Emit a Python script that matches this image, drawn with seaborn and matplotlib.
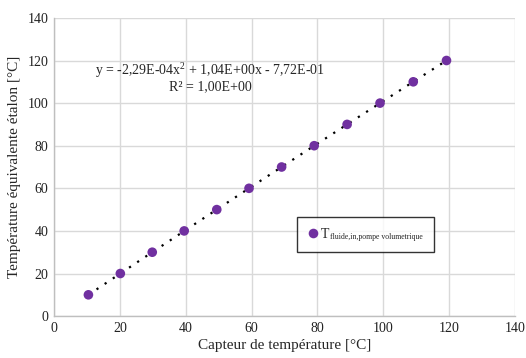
import numpy as np
import pandas as pd
import matplotlib
matplotlib.use("Agg")
import matplotlib.pyplot as plt
import matplotlib.transforms as mtransforms
import seaborn as sns

# valeurs
capteur = [10.4, 20.1, 29.8, 39.5, 49.4, 59.2, 69.1, 79.0, 89.0, 99.0, 109.1, 119.2]
etalon = [10, 20, 30, 40, 50, 60, 70, 80, 90, 100, 110, 120]
serie = "T"
indice = "fluide,in,pompe volumetrique"
equation = "y = -2,29E-04x$^2$ + 1,04E+00x - 7,72E-01"
r2_text = "R² = 1,00E+00"
ticks = [0, 20, 40, 60, 80, 100, 120, 140]

df = pd.DataFrame({"x": capteur, "y": etalon, "serie": serie})

sns.set_theme(style="whitegrid")
plt.rcParams["font.family"] = ["Liberation Serif", "DejaVu Serif"]
plt.rcParams["mathtext.fontset"] = "custom"
plt.rcParams["mathtext.rm"] = "Liberation Serif"
plt.rcParams["mathtext.it"] = "Liberation Serif:italic"

fig, ax = plt.subplots(figsize=(5.26, 3.58), dpi=100)
fig.subplots_adjust(left=0.103, right=0.979, bottom=0.117, top=0.95)

# courbe de tendance polynomiale d'ordre 2
coef = np.polyfit(capteur, etalon, 2)
xs = np.linspace(min(capteur), max(capteur), 200)
ax.plot(xs, np.polyval(coef, xs), color="black", linestyle=(0, (1, 3.4)), lw=1.6, zorder=2)

sns.scatterplot(data=df, x="x", y="y", hue="serie", palette=["#7030A0"], s=48,
                edgecolor="none", ax=ax, zorder=3)

ax.set_xlim(0, 140)
ax.set_ylim(0, 140)
ax.set_xticks(ticks)
ax.set_yticks(ticks)
ax.tick_params(axis="both", length=0, labelsize=10, colors="#222222", pad=4)
ax.grid(True, color="#d9d9d9", lw=1)
for side in ["top", "right"]:
    ax.spines[side].set_visible(False)
for side in ["left", "bottom"]:
    ax.spines[side].set_color("#bfbfbf")
    ax.spines[side].set_linewidth(1)

ax.set_xlabel("Capteur de température [°C]", fontsize=11, labelpad=3)
ax.set_ylabel("Température équivalente étalon [°C]", fontsize=11, labelpad=5)

ax.text(47.4, 115.4, equation, ha="center", va="center", fontsize=10)
ax.text(47.4, 107.6, r2_text, ha="center", va="center", fontsize=10)

# legende : "T" suivi d'espaces, l'indice est ajoute ensuite en petit
handles, labels = ax.get_legend_handles_labels()
leg = ax.legend(handles, [serie + "\u2007" * 13 + " "], loc="upper left",
                bbox_to_anchor=(0.527, 0.332), borderaxespad=0, frameon=True,
                fancybox=False, fontsize=10, handletextpad=0.18, borderpad=0.78,
                handlelength=0.75)
leg.get_frame().set_edgecolor("black")
leg.get_frame().set_linewidth(1)

fig.canvas.draw()
bb = leg.get_texts()[0].get_window_extent()
t_width = 10 * 0.611 * fig.dpi / 72
fig.text(bb.x0 + t_width + 0.5, bb.y0 + 1.5, indice, fontsize=5.55, ha="left",
         va="baseline", transform=mtransforms.IdentityTransform())

fig.savefig("out.png", dpi=100)
